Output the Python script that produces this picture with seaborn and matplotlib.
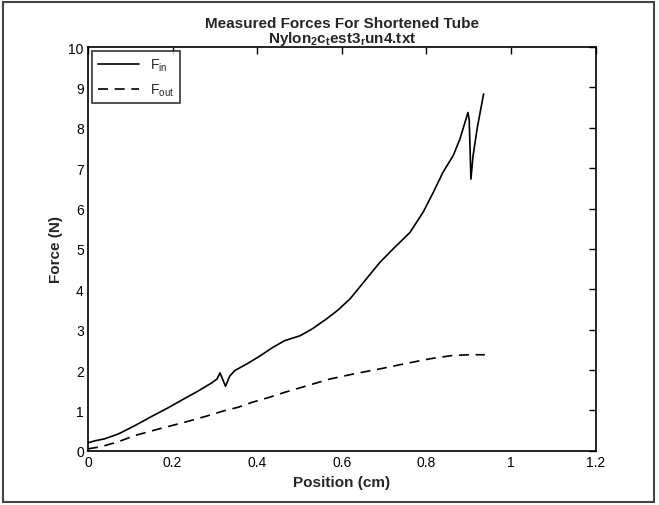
import matplotlib
matplotlib.use("Agg")
import matplotlib.pyplot as plt
import matplotlib.patches as mpatches
import seaborn as sns
import pandas as pd

pos_in = [0, 0.017, 0.04, 0.072, 0.11, 0.15, 0.19, 0.229, 0.26, 0.292, 0.305,
          0.312, 0.318, 0.325, 0.335, 0.347, 0.375, 0.402, 0.438, 0.465, 0.501,
          0.53, 0.564, 0.59, 0.619, 0.658, 0.69, 0.721, 0.761, 0.792, 0.816,
          0.839, 0.863, 0.879, 0.898, 0.901, 0.905, 0.91, 0.92, 0.935]
f_in = [0.2, 0.25, 0.3, 0.42, 0.62, 0.85, 1.07, 1.3, 1.48, 1.68, 1.78,
        1.93, 1.78, 1.6, 1.85, 1.99, 2.15, 2.32, 2.57, 2.73, 2.85,
        3.02, 3.27, 3.48, 3.76, 4.26, 4.67, 5.0, 5.41, 5.91, 6.4,
        6.9, 7.31, 7.72, 8.38, 8.2, 6.73, 7.3, 8.0, 8.84]

pos_out = [0, 0.03, 0.07, 0.111, 0.17, 0.229, 0.28, 0.324, 0.355, 0.387, 0.43,
           0.465, 0.52, 0.572, 0.63, 0.69, 0.75, 0.808, 0.86, 0.9, 0.938]
f_out = [0.05, 0.1, 0.22, 0.38, 0.55, 0.71, 0.86, 1.0, 1.08, 1.2, 1.33,
         1.45, 1.62, 1.78, 1.91, 2.03, 2.16, 2.28, 2.36, 2.38, 2.38]

xticks = [0, 0.2, 0.4, 0.6, 0.8, 1.0, 1.2]
xtick_labels = ["0", "0.2", "0.4", "0.6", "0.8", "1", "1.2"]
yticks = list(range(0, 11))

sns.set_style("white")
plt.rcParams["font.family"] = ["Liberation Sans", "DejaVu Sans"]
plt.rcParams["mathtext.default"] = "regular"

fig = plt.figure(figsize=(6.59, 5.06), dpi=100)
ax = fig.add_axes([0.1335, 0.107, 0.7705, 0.798])

df_in = pd.DataFrame({"pos": pos_in, "f": f_in})
df_out = pd.DataFrame({"pos": pos_out, "f": f_out})
sns.lineplot(data=df_in, x="pos", y="f", ax=ax, color="black", lw=1.2,
             label="F$_{in}$", sort=False)
sns.lineplot(data=df_out, x="pos", y="f", ax=ax, color="black", lw=1.2,
             linestyle=(0, (6, 4)), label="F$_{out}$", sort=False)

ax.set_xlim(0, 1.2)
ax.set_ylim(0, 10)
ax.set_xticks(xticks)
ax.set_xticklabels(xtick_labels)
ax.set_yticks(yticks)
ax.tick_params(direction="in", top=True, right=True, length=5, width=1,
               labelsize=10, colors="black", pad=3)
for s in ax.spines.values():
    s.set_visible(True)
    s.set_color("black")
    s.set_linewidth(1.2)

ax.set_xlabel("Position (cm)", fontsize=11, fontweight="bold")
ax.set_ylabel("Force (N)", fontsize=11, fontweight="bold")
ax.set_title("Measured Forces For Shortened Tube\nNylon$_2$c$_t$est3$_r$un4.txt",
             fontsize=11, fontweight="bold", pad=4, linespacing=0.9)

leg = ax.legend(loc="upper left", frameon=True, fancybox=False, fontsize=10,
                handlelength=3, borderaxespad=0.3, labelspacing=0.6)
leg.get_frame().set_edgecolor("black")
leg.get_frame().set_linewidth(1.2)

fig.patches.append(mpatches.Rectangle((0.005, 0.006), 0.988, 0.988,
                                      transform=fig.transFigure, fill=False,
                                      edgecolor="#444444", lw=1.5))

fig.savefig("out.png", dpi=100, facecolor="white")
